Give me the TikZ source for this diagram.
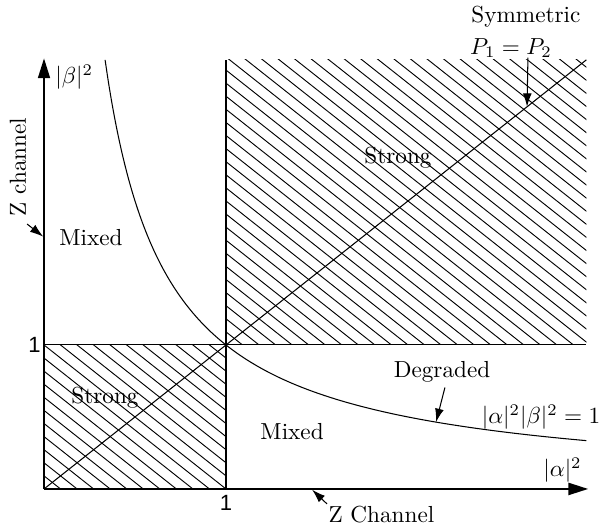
\documentclass[tikz,border=0pt]{standalone}
\usepackage{fontspec}
\newfontfamily\sansone{Liberation Sans}
\usetikzlibrary{arrows.meta}
\begin{document}
\begin{tikzpicture}[x=78.44pt,y=62.06pt,
  xaxis/.style={line width=0.85pt,-{Triangle[length=8.5pt,width=5.2pt]}},
  yaxis/.style={line width=0.6pt,-{Triangle[length=8.5pt,width=5.2pt]}},
  thinline/.style={line width=0.45pt},
  hatchline/.style={line width=0.4pt},
  note/.style={line width=0.45pt,-{Latex[length=5.8pt,width=3.8pt]}},
  lbl/.style={inner sep=0pt,font=\fontsize{10}{12}\selectfont},
  onelbl/.style={inner sep=0pt,font=\sansone\fontsize{9.5}{11}\selectfont}]
\useasboundingbox (-0.2418,-0.2778) rectangle (3.0824,3.3958);

% key points
\coordinate (O) at (0,0);
\coordinate (xend) at (2.99,0);
\coordinate (yend) at (0,2.99);
\coordinate (c11) at (1,1);
\coordinate (top1) at (1,2.98);
\coordinate (bot1) at (1,0);
\coordinate (left1) at (0,1);
\coordinate (right1) at (2.98,1);
\coordinate (corner) at (2.98,2.98);

% hatching
\begin{scope}
  \clip (1,1) rectangle (2.98,2.98);
  \foreach \k in {20,...,68}{
    \pgfmathsetmacro{\c}{\k/11}
    \draw[hatchline] ({-1},{\c+1}) -- ({\c+1},{-1});
  }
\end{scope}
\begin{scope}
  \clip (0,0) rectangle (1,1);
  \foreach \k in {0,...,24}{
    \pgfmathsetmacro{\c}{\k/11}
    \draw[hatchline] ({-1},{\c+1}) -- ({\c+1},{-1});
  }
\end{scope}

% region borders
\draw[thinline] (bot1) -- (top1);
\draw[thinline] (left1) -- (right1);

% diagonal and hyperbola
\draw[thinline] (O) -- (corner);
\draw[thinline,domain=0.3356:2.98,samples=150,smooth,variable=\t] plot ({\t},{1/\t});

% axes
\draw[xaxis] (O) -- (xend);
\draw[yaxis] (O) -- (yend);

% axis labels
\node[lbl,anchor=west] (beta) at (0.06,2.861) {$|\beta|^2$};
\node[lbl] (alpha) at (2.849,0.132) {$|\alpha|^2$};
\node[onelbl] (oneY) at (-0.052,1.0) {1};
\node[onelbl] (oneX) at (1.0,-0.1) {1};

% region labels
\node[lbl] (mixedU) at (0.258,1.743) {Mixed};
\node[lbl] (mixedL) at (1.363,0.396) {Mixed};
\node[lbl] (strongU) at (1.945,2.299) {Strong};
\node[lbl] (strongL) at (0.335,0.632) {Strong};

% Z Channel (x axis)
\node[lbl] (zX) at (1.854,-0.181) {Z Channel};
\coordinate (zXs) at (1.555,-0.104);
\coordinate (zXt) at (1.473,-0.005);
\draw[note] (zXs) -- (zXt);

% Z channel (y axis)
\node[lbl,rotate=90] (zY) at (-0.143,2.236) {Z channel};
\coordinate (zYs) at (-0.093,1.84);
\coordinate (zYt) at (-0.004,1.752);
\draw[note] (zYs) -- (zYt);

% Degraded
\node[lbl] (deg) at (2.187,0.8125) {Degraded};
\node[lbl] (hyp) at (2.731,0.5) {$|\alpha|^2|\beta|^2=1$};
\coordinate (degs) at (2.203,0.705);
\coordinate (degt) at (2.154,0.4643);
\draw[note] (degs) -- (degt);

% Symmetric
\node[lbl] (sym) at (2.648,3.278) {Symmetric};
\node[lbl] (peq) at (2.566,3.0625) {$P_1=P_2$};
\coordinate (syms) at (2.659,2.995);
\coordinate (symt) at (2.654,2.654);
\draw[note] (syms) -- (symt);
\end{tikzpicture}
\end{document}
